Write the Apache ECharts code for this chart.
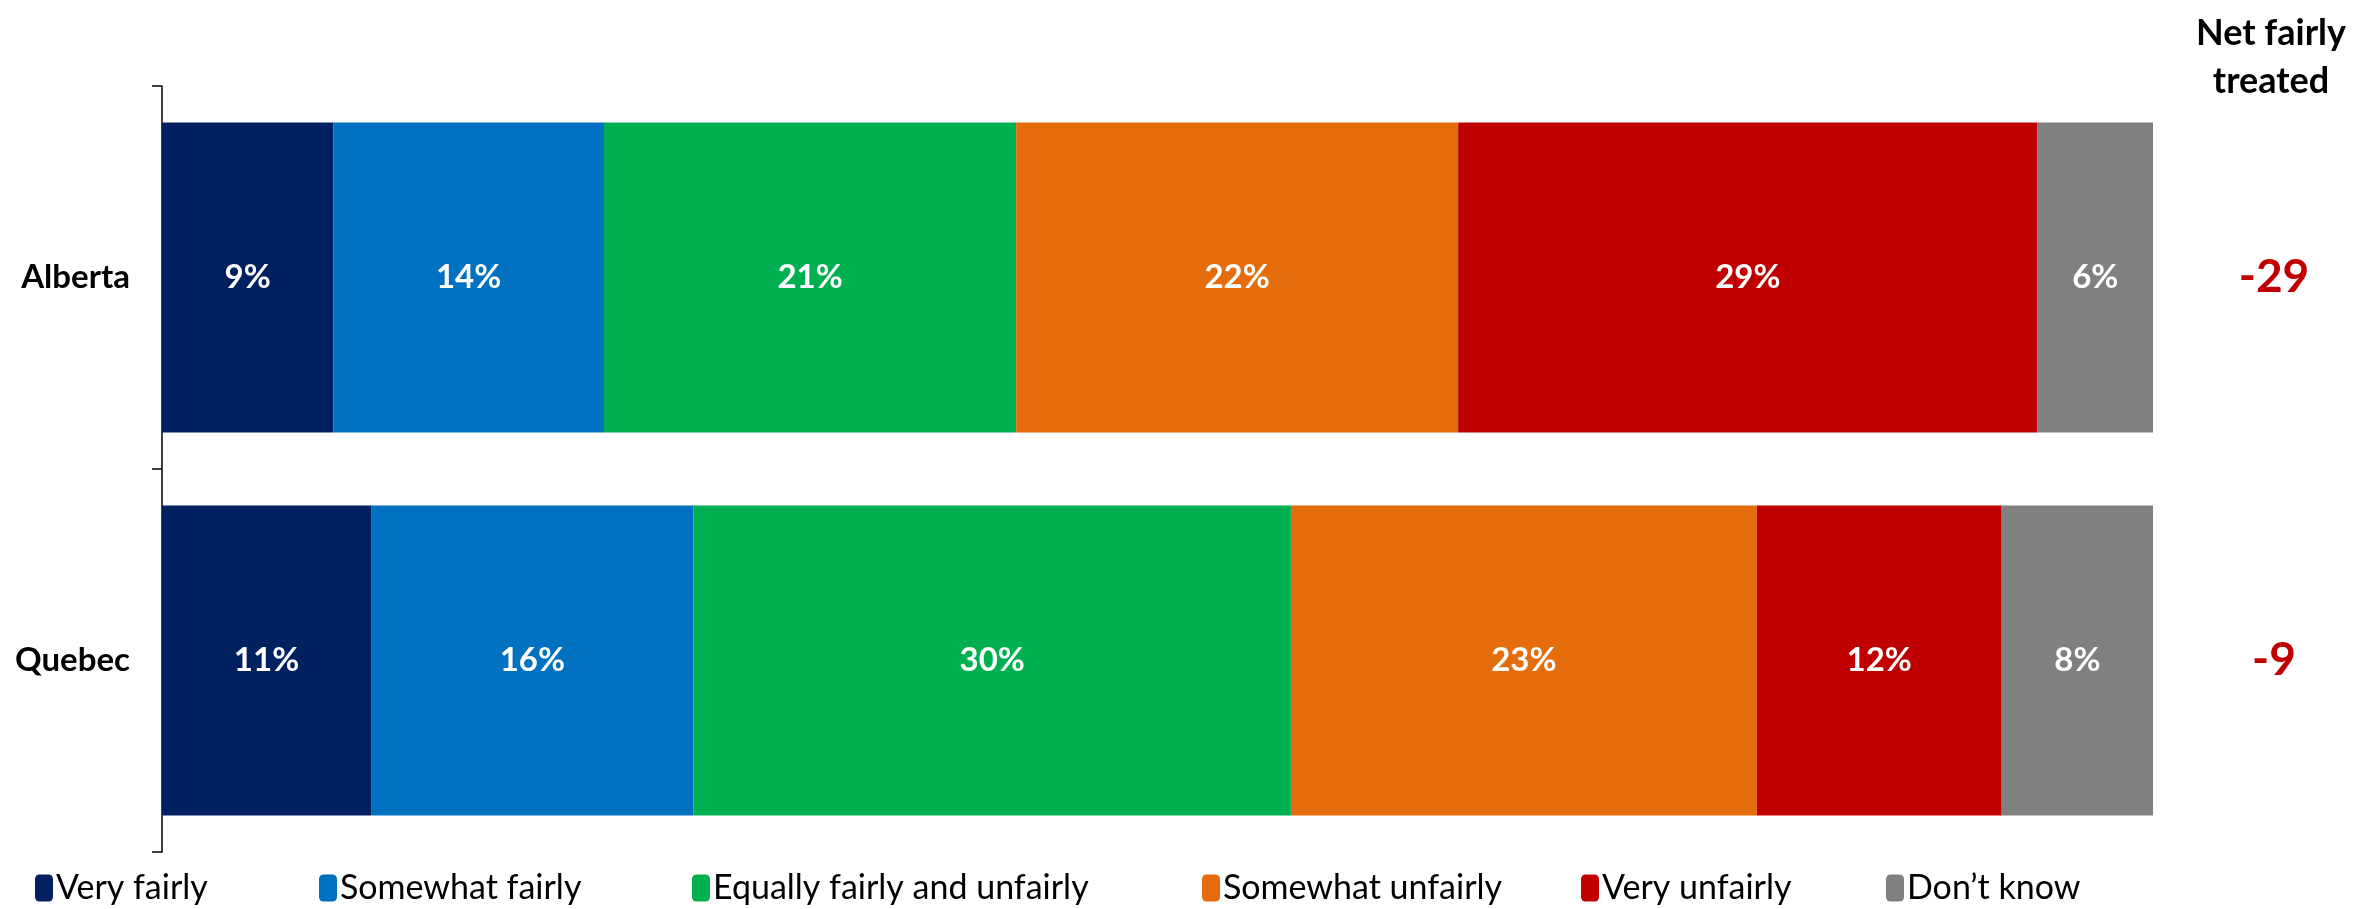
<!DOCTYPE html>
<html>
<head>
<meta charset="utf-8">
<script src="https://cdn.jsdelivr.net/npm/echarts@6/dist/echarts.min.js"></script>
<style>
html,body{margin:0;padding:0;background:#fff;}
#main{width:2369px;height:909px;}
</style>
</head>
<body>
<div id="main"></div>
<script>
const categories = ['Alberta', 'Quebec'];
const seriesNames = ['Very fairly', 'Somewhat fairly', 'Equally fairly and unfairly', 'Somewhat unfairly', 'Very unfairly', 'Don\u2019t know'];
const veryFairly = [8.6, 10.5];
const somewhatFairly = [13.6, 16.2];
const equally = [20.7, 30.0];
const somewhatUnfairly = [22.2, 23.4];
const veryUnfairly = [29.1, 12.3];
const dontKnow = [5.8, 7.6];
const netFairly = [-29, -9];
const colors = ['#002060', '#0070C0', '#00B050', '#E46C0A', '#C00000', '#808080'];
const legendLeft = [30, 314, 687, 1197, 1576, 1881];

const values = [veryFairly, somewhatFairly, equally, somewhatUnfairly, veryUnfairly, dontKnow];
const FONT = 'Lato';

const chart = echarts.init(document.getElementById('main'));
const series = seriesNames.map((name, i) => ({
  name: name,
  type: 'bar',
  stack: 'total',
  data: values[i],
  barCategoryGap: '19%',
  itemStyle: { color: colors[i] },
  label: {
    show: true,
    position: 'inside',
    color: '#fff',
    fontWeight: 'bold',
    fontSize: 33,
    fontFamily: FONT,
    formatter: p => Math.round(p.value) + '%'
  }
}));

const legends = seriesNames.map((name, i) => ({
  data: [name],
  left: legendLeft[i],
  bottom: -1,
  itemWidth: 18,
  itemHeight: 27,
  itemGap: 0,
  itemStyle: { borderRadius: 2 },
  textStyle: { fontSize: 34, fontFamily: FONT, color: '#000', padding: [0, 0, 0, -2] },
  selectedMode: false
}));

const netLabelStyle = { color: '#C00000', fontWeight: 'bold', fontSize: 46, fontFamily: FONT, align: 'center', verticalAlign: 'middle' };

chart.setOption({
  animation: false,
  backgroundColor: '#fff',
  title: {
    text: 'Net fairly\ntreated',
    left: 2266,
    top: 4,
    textAlign: 'center',
    textStyle: { fontSize: 36, fontWeight: 'bold', fontFamily: FONT, color: '#000', lineHeight: 48, align: 'center' }
  },
  legend: legends,
  grid: { left: 162, right: 216, top: 86, bottom: 57 },
  xAxis: { type: 'value', min: 0, max: 100, show: false },
  yAxis: [
    {
      type: 'category',
      data: categories,
      inverse: true,
      axisLine: { show: true, lineStyle: { color: '#000', width: 1.5 } },
      axisTick: { show: true, length: 10, lineStyle: { color: '#000', width: 1.5 } },
      axisLabel: { color: '#000', fontWeight: 'bold', fontSize: 33, fontFamily: FONT, margin: 32 }
    },
    {
      type: 'category',
      data: categories.map(c => ({ value: c, textStyle: Object.assign({}, netLabelStyle) })),
      inverse: true,
      position: 'right',
      axisLine: { show: false },
      axisTick: { show: false },
      axisLabel: Object.assign({
        margin: 121,
        formatter: (v, idx) => String(netFairly[idx])
      }, netLabelStyle)
    }
  ],
  series: series
});
</script>
</body>
</html>
